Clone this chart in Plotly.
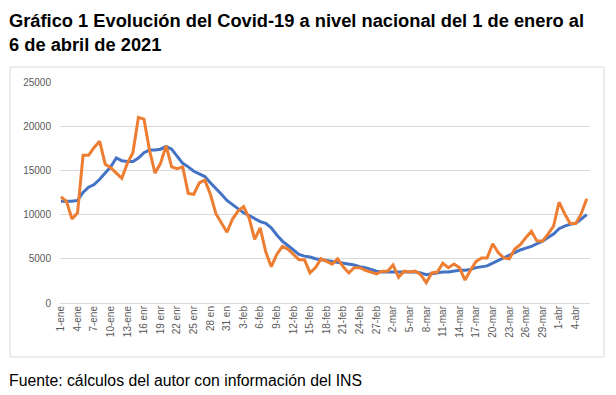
import pandas as pd
import plotly.graph_objects as go

START_DATE = "2021-01-01"
END_DATE = "2021-04-06"

# Daily cases (orange) and moving average (blue), 1 Jan - 6 Apr 2021
casos_diarios = [
    12000, 11500, 9500, 10200, 16700, 16700, 17600, 18300, 15700, 15300,
    14700, 14100, 15800, 17000, 21000, 20800, 17300, 14700, 15800, 17800,
    15400, 15200, 15400, 12400, 12300, 13600, 13900, 12300, 10100, 9000,
    8000, 9500, 10400, 10900, 9600, 7200, 8500, 5800, 4100, 5500,
    6400, 6100, 5500, 4900, 4900, 3400, 4000, 5000, 4700, 4400,
    5000, 4100, 3400, 4000, 4000, 3700, 3500, 3300, 3600, 3600,
    4300, 2900, 3600, 3500, 3600, 3200, 2300, 3400, 3500, 4500,
    4000, 4400, 4000, 2600, 3700, 4700, 5100, 5100, 6700, 5700,
    5100, 5000, 6100, 6600, 7400, 8100, 7000, 7000, 7800, 8700,
    11400, 10100, 9000, 9000, 10100, 11800,
]
promedio_movil = [
    11500, 11500, 11500, 11600, 12500, 13100, 13400, 14000, 14700, 15400,
    16400, 16100, 16000, 16000, 16400, 17000, 17300, 17300, 17400, 17700,
    17400, 16600, 15800, 15400, 14900, 14600, 14300, 13600, 13000, 12300,
    11600, 11100, 10700, 10200, 9900, 9500, 9200, 9000, 8500, 7700,
    7000, 6500, 6000, 5500, 5300, 5200, 5000, 4900, 4800, 4700,
    4600, 4500, 4400, 4300, 4100, 4000, 3800, 3600, 3500, 3500,
    3500, 3500, 3500, 3500, 3500, 3400, 3200, 3300, 3400, 3500,
    3500, 3600, 3700, 3700, 3800, 4000, 4100, 4200, 4500, 4800,
    5100, 5400, 5700, 6000, 6200, 6400, 6700, 7000, 7400, 7800,
    8400, 8700, 8900, 9000, 9500, 10000,
]
tick_labels = [
    "1-ene", "4-ene", "7-ene", "10-ene", "13-ene", "16 enr", "19 enr", "22 enr",
    "25 enr", "28 en", "31 en", "3-feb", "6-feb", "9-feb", "12-feb", "15-feb",
    "18-feb", "21-feb", "24-feb", "27-feb", "2-mar", "5-mar", "8-mar", "11-mar",
    "14-mar", "17-mar", "20-mar", "23-mar", "26-mar", "29-mar", "1-abr", "4-abr",
]
y_ticks = [0, 5000, 10000, 15000, 20000, 25000]
y_tick_labels = ["0", "5000", "10000", "15000", "20000", "25000"]

fechas = pd.date_range(START_DATE, END_DATE, freq="D")
tick_fechas = fechas[::3]

fig = go.Figure()
fig.add_trace(go.Scatter(x=fechas, y=promedio_movil, mode="lines",
                         line=dict(color="#4472C4", width=3), name="Promedio"))
fig.add_trace(go.Scatter(x=fechas, y=casos_diarios, mode="lines",
                         line=dict(color="#ED7D31", width=3), name="Casos"))

W, H = 616, 395
L, R, T, B = 60, 26, 82, 92
pw, ph = W - L - R, H - T - B

def px_x(px):
    return (px - L) / pw

def px_y(py):
    return (H - B - py) / ph

fig.update_layout(
    width=W, height=H,
    margin=dict(l=L, r=R, t=T, b=B),
    paper_bgcolor="white", plot_bgcolor="white",
    showlegend=False,
    font=dict(family="Liberation Sans, Arial, sans-serif"),
    xaxis=dict(
        range=[fechas[0] - pd.Timedelta(hours=4), fechas[-1] + pd.Timedelta(hours=14)],
        tickvals=list(tick_fechas), ticktext=tick_labels,
        tickangle=-90, tickfont=dict(size=10, color="#595959"),
        showgrid=False, showline=False, zeroline=False, ticks="",
    ),
    yaxis=dict(
        range=[0, 25000], tickvals=y_ticks, ticktext=y_tick_labels,
        tickfont=dict(size=10, color="#595959"),
        showgrid=True, gridcolor="#d9d9d9", gridwidth=1,
        zeroline=True, zerolinecolor="#d9d9d9", zerolinewidth=1,
        showline=False, ticks="", ticklabelstandoff=8,
    ),
    shapes=[dict(type="rect", xref="paper", yref="paper",
                 x0=px_x(10), x1=px_x(604), y0=px_y(357), y1=px_y(67),
                 line=dict(color="#d9d9d9", width=1), fillcolor="rgba(0,0,0,0)",
                 layer="below")],
    annotations=[
        dict(text="<b>Gráfico 1 Evolución del Covid-19 a nivel nacional del 1 de enero al<br>6 de abril de 2021</b>",
             xref="paper", yref="paper", x=px_x(7), y=px_y(8),
             xanchor="left", yanchor="top", align="left", showarrow=False,
             font=dict(size=18.3, color="black")),
        dict(text="Fuente: cálculos del autor con información del INS",
             xref="paper", yref="paper", x=px_x(7), y=px_y(380),
             xanchor="left", yanchor="middle", align="left", showarrow=False,
             font=dict(size=15.8, color="black")),
    ],
)

fig.write_html("out.html", config={"displayModeBar": False},
               post_script="document.body.style.margin='0';document.body.style.padding='0';")
